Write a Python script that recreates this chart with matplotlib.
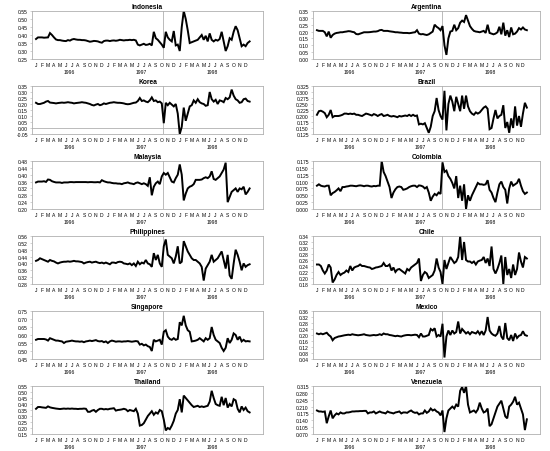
import numpy as np
import matplotlib
matplotlib.use("Agg")
import matplotlib.pyplot as plt

plt.rcParams['font.family'] = ['Liberation Sans', 'DejaVu Sans']

# x axis: one letter per month, Jan 1996 - Dec 1998
month_labels = list("JFMAMJJASOND") * 3
year_labels = ["1996", "1997", "1998"]

# three readings per month, Jan 1996 .. Dec 1998
indonesia = [
    0.375, 0.385, 0.385, 0.385, 0.383, 0.384, 0.385, 0.412, 0.400, 0.385, 0.372, 0.368,
    0.368, 0.365, 0.363, 0.362, 0.368, 0.365, 0.372, 0.375, 0.372, 0.370, 0.370, 0.368,
    0.368, 0.366, 0.362, 0.358, 0.360, 0.363, 0.362, 0.360, 0.355, 0.352, 0.362, 0.365,
    0.365, 0.362, 0.365, 0.366, 0.364, 0.366, 0.370, 0.368, 0.366, 0.368, 0.368, 0.370,
    0.368, 0.370, 0.366, 0.340, 0.335, 0.340, 0.345, 0.338, 0.340, 0.345, 0.335, 0.420,
    0.380, 0.370, 0.355, 0.340, 0.320, 0.420, 0.385, 0.370, 0.360, 0.425, 0.335, 0.340,
    0.300, 0.450, 0.550, 0.500, 0.430, 0.350, 0.355, 0.360, 0.365, 0.370, 0.385, 0.400,
    0.370, 0.395, 0.360, 0.410, 0.370, 0.360, 0.370, 0.365, 0.375, 0.420, 0.360, 0.300,
    0.330, 0.380, 0.370, 0.420, 0.455, 0.430, 0.380, 0.330, 0.340, 0.330, 0.350, 0.360,
]
argentina = [
    0.210, 0.205, 0.205, 0.205, 0.195, 0.165, 0.200, 0.155, 0.175, 0.185, 0.190, 0.192,
    0.195, 0.195, 0.198, 0.200, 0.203, 0.202, 0.198, 0.195, 0.182, 0.180, 0.185, 0.190,
    0.195, 0.195, 0.195, 0.196, 0.198, 0.200, 0.200, 0.203, 0.210, 0.212, 0.205, 0.205,
    0.205, 0.202, 0.200, 0.198, 0.195, 0.195, 0.193, 0.192, 0.190, 0.190, 0.190, 0.188,
    0.190, 0.193, 0.195, 0.210, 0.185, 0.180, 0.182, 0.178, 0.175, 0.180, 0.190, 0.200,
    0.250, 0.235, 0.225, 0.210, 0.240, 0.100, 0.030, 0.150, 0.200, 0.205, 0.250, 0.210,
    0.225, 0.265, 0.280, 0.270, 0.320, 0.280, 0.240, 0.220, 0.205, 0.200, 0.198, 0.195,
    0.200, 0.205, 0.190, 0.250, 0.190, 0.185, 0.180, 0.185, 0.195, 0.235, 0.180, 0.265,
    0.170, 0.210, 0.160, 0.230, 0.180, 0.185, 0.200, 0.225, 0.215, 0.230, 0.215, 0.210,
]
korea = [
    0.210, 0.200, 0.200, 0.205, 0.210, 0.220, 0.225, 0.212, 0.210, 0.208, 0.205, 0.208,
    0.210, 0.212, 0.210, 0.212, 0.215, 0.212, 0.210, 0.205, 0.208, 0.210, 0.212, 0.215,
    0.212, 0.210, 0.205, 0.200, 0.192, 0.188, 0.195, 0.200, 0.190, 0.195, 0.205, 0.200,
    0.205, 0.210, 0.212, 0.215, 0.212, 0.210, 0.210, 0.208, 0.205, 0.200, 0.198, 0.200,
    0.205, 0.210, 0.212, 0.225, 0.250, 0.225, 0.230, 0.220, 0.215, 0.230, 0.255, 0.225,
    0.230, 0.215, 0.220, 0.205, 0.040, 0.210, 0.190, 0.210, 0.195, 0.180, 0.200, 0.120,
    -0.050, 0.010, 0.170, 0.060, 0.120, 0.180, 0.190, 0.230, 0.210, 0.240, 0.215, 0.205,
    0.200, 0.185, 0.190, 0.300, 0.240, 0.220, 0.235, 0.200, 0.230, 0.225, 0.215, 0.250,
    0.240, 0.255, 0.320, 0.270, 0.240, 0.230, 0.210, 0.215, 0.240, 0.245, 0.225, 0.220,
]
brazil = [
    0.205, 0.220, 0.222, 0.218, 0.212, 0.195, 0.205, 0.225, 0.195, 0.200, 0.200, 0.200,
    0.202, 0.205, 0.210, 0.210, 0.208, 0.210, 0.208, 0.210, 0.205, 0.205, 0.202, 0.200,
    0.205, 0.210, 0.208, 0.205, 0.202, 0.208, 0.205, 0.200, 0.205, 0.208, 0.200, 0.202,
    0.205, 0.200, 0.198, 0.200, 0.198, 0.195, 0.200, 0.198, 0.200, 0.202, 0.200, 0.205,
    0.200, 0.205, 0.200, 0.202, 0.165, 0.168, 0.165, 0.170, 0.150, 0.130, 0.155, 0.200,
    0.220, 0.275, 0.225, 0.200, 0.185, 0.305, 0.140, 0.250, 0.285, 0.260, 0.220, 0.280,
    0.250, 0.220, 0.285, 0.230, 0.285, 0.240, 0.220, 0.210, 0.205, 0.215, 0.210, 0.215,
    0.225, 0.235, 0.240, 0.230, 0.145, 0.150, 0.190, 0.225, 0.190, 0.200, 0.205, 0.245,
    0.150, 0.175, 0.130, 0.190, 0.150, 0.240, 0.160, 0.200, 0.155, 0.210, 0.255, 0.235,
]
malaysia = [
    0.355, 0.360, 0.360, 0.360, 0.362, 0.358, 0.372, 0.370, 0.362, 0.358, 0.355, 0.355,
    0.355, 0.352, 0.355, 0.355, 0.355, 0.357, 0.357, 0.356, 0.357, 0.357, 0.357, 0.357,
    0.357, 0.357, 0.356, 0.357, 0.357, 0.356, 0.356, 0.357, 0.355, 0.368, 0.362, 0.358,
    0.355, 0.355, 0.352, 0.350, 0.350, 0.348, 0.348, 0.345, 0.350, 0.352, 0.355, 0.350,
    0.348, 0.345, 0.352, 0.355, 0.350, 0.345, 0.350, 0.345, 0.335, 0.385, 0.280, 0.330,
    0.350, 0.360, 0.345, 0.390, 0.410, 0.400, 0.410, 0.385, 0.360, 0.355, 0.380, 0.400,
    0.460, 0.400, 0.250, 0.290, 0.320, 0.330, 0.335, 0.345, 0.370, 0.370, 0.370, 0.372,
    0.380, 0.385, 0.380, 0.390, 0.420, 0.375, 0.370, 0.380, 0.390, 0.410, 0.430, 0.470,
    0.240, 0.270, 0.300, 0.310, 0.320, 0.300, 0.320, 0.315, 0.330, 0.285, 0.300, 0.320,
]
colombia = [
    0.085, 0.090, 0.085, 0.083, 0.082, 0.085, 0.085, 0.050, 0.058, 0.062, 0.068, 0.075,
    0.065, 0.080, 0.080, 0.082, 0.083, 0.085, 0.085, 0.084, 0.083, 0.085, 0.086, 0.085,
    0.083, 0.085, 0.085, 0.083, 0.082, 0.084, 0.083, 0.085, 0.085, 0.175, 0.135, 0.120,
    0.100, 0.080, 0.040, 0.060, 0.072, 0.080, 0.082, 0.080, 0.070, 0.072, 0.075, 0.080,
    0.083, 0.085, 0.085, 0.080, 0.086, 0.085, 0.082, 0.075, 0.080, 0.060, 0.030, 0.045,
    0.055, 0.050, 0.060, 0.055, 0.170, 0.135, 0.140, 0.120, 0.110, 0.095, 0.075, 0.120,
    0.040, 0.085, 0.030, 0.090, 0.000, 0.050, 0.030, 0.050, 0.065, 0.080, 0.095, 0.090,
    0.090, 0.088, 0.090, 0.105, 0.070, 0.060, 0.040, 0.025, 0.060, 0.090, 0.100, 0.080,
    0.070, 0.020, 0.075, 0.100, 0.085, 0.090, 0.095, 0.110, 0.085, 0.065, 0.055, 0.060,
]
philippines = [
    0.415, 0.420, 0.430, 0.425, 0.420, 0.415, 0.410, 0.420, 0.415, 0.412, 0.405, 0.400,
    0.405, 0.408, 0.410, 0.410, 0.412, 0.410, 0.412, 0.415, 0.412, 0.412, 0.410, 0.408,
    0.400, 0.405, 0.408, 0.410, 0.405, 0.408, 0.410, 0.405, 0.402, 0.405, 0.400, 0.405,
    0.400, 0.395, 0.405, 0.405, 0.402, 0.408, 0.410, 0.408, 0.400, 0.398, 0.395, 0.400,
    0.390, 0.400, 0.385, 0.410, 0.395, 0.405, 0.400, 0.420, 0.400, 0.395, 0.380, 0.460,
    0.420, 0.450, 0.400, 0.380, 0.500, 0.540, 0.450, 0.440, 0.430, 0.400, 0.440, 0.500,
    0.400, 0.410, 0.530, 0.500, 0.470, 0.450, 0.430, 0.420, 0.420, 0.410, 0.400, 0.380,
    0.300, 0.370, 0.390, 0.410, 0.450, 0.410, 0.420, 0.430, 0.450, 0.470, 0.420, 0.370,
    0.450, 0.330, 0.310, 0.400, 0.480, 0.450, 0.410, 0.360, 0.400, 0.380, 0.390, 0.395,
]
chile = [
    0.245, 0.245, 0.240, 0.225, 0.215, 0.225, 0.245, 0.235, 0.185, 0.195, 0.210, 0.220,
    0.210, 0.215, 0.218, 0.225, 0.220, 0.240, 0.225, 0.235, 0.238, 0.240, 0.245, 0.240,
    0.240, 0.238, 0.236, 0.235, 0.230, 0.232, 0.235, 0.236, 0.238, 0.240, 0.250, 0.240,
    0.240, 0.245, 0.225, 0.235, 0.220, 0.228, 0.230, 0.225, 0.220, 0.215, 0.230, 0.225,
    0.235, 0.240, 0.245, 0.250, 0.265, 0.190, 0.210, 0.220, 0.215, 0.200, 0.205, 0.210,
    0.225, 0.265, 0.235, 0.220, 0.180, 0.260, 0.230, 0.250, 0.270, 0.260, 0.250, 0.255,
    0.270, 0.340, 0.260, 0.320, 0.260, 0.255, 0.255, 0.250, 0.255, 0.245, 0.255, 0.258,
    0.260, 0.270, 0.250, 0.265, 0.240, 0.305, 0.230, 0.215, 0.230, 0.250, 0.275, 0.180,
    0.270, 0.210, 0.230, 0.200, 0.245, 0.210, 0.230, 0.285, 0.255, 0.235, 0.270, 0.265,
]
singapore = [
    0.570, 0.575, 0.575, 0.575, 0.575, 0.572, 0.565, 0.580, 0.575, 0.570, 0.565, 0.565,
    0.562, 0.560, 0.550, 0.558, 0.560, 0.562, 0.565, 0.562, 0.560, 0.560, 0.558, 0.560,
    0.555, 0.560, 0.562, 0.565, 0.562, 0.565, 0.568, 0.562, 0.560, 0.562, 0.555, 0.560,
    0.550, 0.560, 0.565, 0.562, 0.558, 0.560, 0.560, 0.558, 0.560, 0.560, 0.562, 0.560,
    0.558, 0.560, 0.562, 0.560, 0.540, 0.545, 0.535, 0.540, 0.530, 0.525, 0.500, 0.570,
    0.560, 0.565, 0.570, 0.540, 0.620, 0.630, 0.590, 0.575, 0.570, 0.580, 0.570, 0.575,
    0.680, 0.660, 0.720, 0.660, 0.630, 0.620, 0.560, 0.562, 0.565, 0.570, 0.580, 0.570,
    0.560, 0.580, 0.570, 0.580, 0.650, 0.600, 0.570, 0.560, 0.550, 0.520, 0.500, 0.520,
    0.580, 0.550, 0.570, 0.610, 0.600, 0.570, 0.590, 0.560, 0.570, 0.560, 0.562, 0.560,
]
mexico = [
    0.210, 0.205, 0.210, 0.205, 0.210, 0.215, 0.200, 0.190, 0.165, 0.180, 0.185, 0.190,
    0.192, 0.195, 0.198, 0.200, 0.202, 0.200, 0.205, 0.202, 0.200, 0.198, 0.200, 0.202,
    0.205, 0.200, 0.198, 0.196, 0.198, 0.200, 0.198, 0.200, 0.205, 0.200, 0.210, 0.205,
    0.205, 0.200, 0.198, 0.195, 0.192, 0.195, 0.192, 0.190, 0.195, 0.198, 0.200, 0.200,
    0.198, 0.200, 0.202, 0.200, 0.185, 0.210, 0.190, 0.190, 0.195, 0.200, 0.240, 0.230,
    0.245, 0.190, 0.200, 0.190, 0.275, 0.050, 0.190, 0.230, 0.200, 0.230, 0.210, 0.220,
    0.290, 0.210, 0.240, 0.225, 0.210, 0.220, 0.205, 0.220, 0.215, 0.210, 0.225, 0.205,
    0.225, 0.200, 0.230, 0.320, 0.230, 0.210, 0.200, 0.195, 0.210, 0.260, 0.190, 0.170,
    0.280, 0.180, 0.165, 0.200, 0.160, 0.210, 0.180, 0.195, 0.200, 0.225, 0.200, 0.195,
]
thailand = [
    0.360, 0.375, 0.375, 0.372, 0.370, 0.368, 0.380, 0.372, 0.368, 0.365, 0.362, 0.360,
    0.358, 0.360, 0.362, 0.360, 0.362, 0.360, 0.362, 0.360, 0.360, 0.358, 0.360, 0.360,
    0.362, 0.360, 0.335, 0.335, 0.345, 0.350, 0.335, 0.350, 0.360, 0.360, 0.355, 0.358,
    0.355, 0.360, 0.362, 0.365, 0.345, 0.350, 0.352, 0.355, 0.360, 0.355, 0.340, 0.350,
    0.345, 0.340, 0.360, 0.320, 0.220, 0.225, 0.240, 0.270, 0.300, 0.320, 0.340, 0.310,
    0.330, 0.320, 0.350, 0.340, 0.270, 0.180, 0.200, 0.190, 0.220, 0.260, 0.320, 0.350,
    0.440, 0.330, 0.470, 0.450, 0.430, 0.410, 0.390, 0.375, 0.380, 0.385, 0.375, 0.380,
    0.375, 0.380, 0.385, 0.420, 0.510, 0.450, 0.400, 0.390, 0.385, 0.460, 0.390, 0.450,
    0.370, 0.400, 0.380, 0.440, 0.430, 0.360, 0.330, 0.380, 0.350, 0.370, 0.340, 0.330,
]
venezuela = [
    0.190, 0.185, 0.185, 0.183, 0.185, 0.125, 0.160, 0.190, 0.150, 0.165, 0.175, 0.170,
    0.180, 0.175, 0.175, 0.180, 0.180, 0.182, 0.185, 0.185, 0.186, 0.186, 0.187, 0.187,
    0.188, 0.188, 0.175, 0.180, 0.180, 0.185, 0.175, 0.180, 0.185, 0.180, 0.178, 0.175,
    0.185, 0.180, 0.178, 0.175, 0.180, 0.182, 0.185, 0.175, 0.180, 0.180, 0.178, 0.185,
    0.190, 0.182, 0.178, 0.180, 0.170, 0.175, 0.175, 0.190, 0.178, 0.185, 0.200, 0.190,
    0.195, 0.185, 0.180, 0.165, 0.190, 0.080, 0.150, 0.190, 0.200, 0.210, 0.200, 0.220,
    0.210, 0.290, 0.310, 0.280, 0.315, 0.220, 0.180, 0.185, 0.190, 0.180, 0.195, 0.230,
    0.200, 0.180, 0.185, 0.200, 0.110, 0.120, 0.150, 0.180, 0.210, 0.225, 0.240, 0.200,
    0.160, 0.150, 0.210, 0.220, 0.235, 0.260, 0.220, 0.230, 0.200, 0.170, 0.090, 0.145,
]

# (title, series, y min, y max, y step, tick format)
left_col = [
    ("Indonesia", indonesia, 0.25, 0.55, 0.05, "%.2f"),
    ("Korea", korea, -0.05, 0.35, 0.05, "%.2f"),
    ("Malaysia", malaysia, 0.20, 0.48, 0.04, "%.2f"),
    ("Philippines", philippines, 0.28, 0.56, 0.04, "%.2f"),
    ("Singapore", singapore, 0.45, 0.75, 0.05, "%.2f"),
    ("Thailand", thailand, 0.15, 0.55, 0.05, "%.2f"),
]
right_col = [
    ("Argentina", argentina, 0.00, 0.35, 0.05, "%.2f"),
    ("Brazil", brazil, 0.125, 0.325, 0.025, "%.3f"),
    ("Colombia", colombia, 0.000, 0.175, 0.025, "%.3f"),
    ("Chile", chile, 0.18, 0.34, 0.02, "%.2f"),
    ("Mexico", mexico, 0.04, 0.36, 0.04, "%.2f"),
    ("Venezuela", venezuela, 0.070, 0.315, 0.035, "%.3f"),
]

W, H = 550, 452
fig = plt.figure(figsize=(W / 100, H / 100), dpi=100)
fig.patch.set_facecolor("white")

grey = "#b0b0b0"


def draw_panel(ax, title, vals, lo, hi, step, fmt):
    t = np.arange(len(vals)) / 3.0
    ax.plot(t, vals, color="black", lw=1.4, solid_joinstyle="miter")
    ax.axvline(21.25, color=grey, lw=0.6, zorder=0)
    if lo < 0 < hi:
        ax.axhline(0, color=grey, lw=0.6, zorder=0)
    ax.set_xlim(-0.67, 37.9)
    ax.set_ylim(lo, hi)
    yt = np.arange(lo, hi + step / 2, step)
    ax.set_yticks(yt)
    ax.set_yticklabels([fmt % v for v in yt])
    ax.set_xticks(np.arange(36))
    ax.set_xticklabels(month_labels)
    ax.tick_params(axis="x", length=0, labelsize=3.6, pad=2.5)
    ax.tick_params(axis="y", length=1.5, width=0.4, color=grey, labelsize=3.6, pad=1.5)
    for s in ax.spines.values():
        s.set_color(grey)
        s.set_linewidth(0.6)
    ax.set_title(title, fontsize=4.8, fontweight="bold", pad=2)
    for i, y in enumerate(year_labels):
        ax.text(5.5 + 12 * i, -0.2, y, transform=ax.get_xaxis_transform(),
                ha="center", va="top", fontsize=3.6)


for r in range(6):
    top = 12 + 75 * r
    bottom = 1 - (top + 48) / H
    ax = fig.add_axes([32 / W, bottom, 231 / W, 48 / H])
    draw_panel(ax, *left_col[r])
    ax = fig.add_axes([313 / W, bottom, 227 / W, 48 / H])
    draw_panel(ax, *right_col[r])

fig.savefig("out.png", dpi=100, facecolor="white")
